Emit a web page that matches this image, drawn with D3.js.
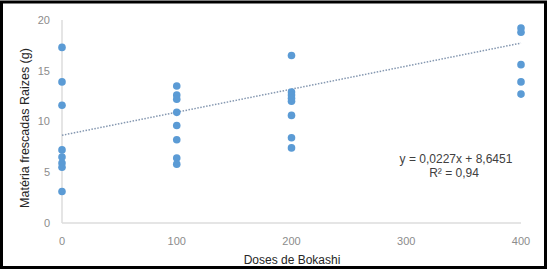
<!DOCTYPE html>
<html>
<head>
<meta charset="utf-8">
<script src="https://cdn.jsdelivr.net/npm/d3@7"></script>
<style>
  body { margin: 0; background: #fff; }
  svg { display: block; font-family: "Liberation Sans", Arial, sans-serif; }
</style>
</head>
<body>
<div id="chart"></div>
<script>
// doses and the values measured at each dose
const doses = [0, 100, 200, 400];
const dose0 = [17.3, 13.9, 11.6, 7.2, 6.5, 5.9, 5.5, 3.1];
const dose100 = [13.5, 12.6, 12.2, 10.9, 9.6, 8.2, 6.4, 5.8];
const dose200 = [16.5, 12.9, 12.6, 12.3, 12.0, 10.6, 8.4, 7.4];
const dose400 = [19.2, 18.8, 15.6, 13.9, 12.7];
const xTicks = [0, 100, 200, 300, 400];
const yTicks = [0, 5, 10, 15, 20];
const slope = 0.0227;
const intercept = 8.6451;
const eqLabel = "y = 0,0227x + 8,6451";
const r2Label = "R² = 0,94";

const groups = [dose0, dose100, dose200, dose400];
const points = groups.flatMap((vals, i) => vals.map((v) => ({ x: doses[i], y: v })));

const width = 553, height = 272;
const svg = d3.select("#chart").append("svg").attr("width", width).attr("height", height);

svg.append("rect")
  .attr("x", 1.5).attr("y", 2)
  .attr("width", 544).attr("height", 265.5)
  .attr("fill", "#fff").attr("stroke", "#000").attr("stroke-width", 3);

const x = d3.scaleLinear().domain([0, 400]).range([62, 521]);
const y = d3.scaleLinear().domain([0, 20]).range([223, 20]);

// axis lines
svg.append("line")
  .attr("x1", x(0)).attr("x2", x(0)).attr("y1", y(20)).attr("y2", y(0))
  .attr("stroke", "#dcdcdc").attr("stroke-width", 1.5);
svg.append("line")
  .attr("x1", x(0)).attr("x2", x(400)).attr("y1", y(0)).attr("y2", y(0))
  .attr("stroke", "#dcdcdc").attr("stroke-width", 1.5);

svg.append("g").selectAll("text").data(yTicks).join("text")
  .attr("x", 50).attr("y", (d) => y(d)).attr("dy", "0.35em")
  .attr("text-anchor", "end").attr("font-size", 11).attr("fill", "#8c8c8c")
  .text((d) => d);

svg.append("g").selectAll("text").data(xTicks).join("text")
  .attr("x", (d) => x(d)).attr("y", 241).attr("dy", "0.35em")
  .attr("text-anchor", "middle").attr("font-size", 11).attr("fill", "#8c8c8c")
  .text((d) => d);

// trend line
svg.append("line")
  .attr("x1", x(0)).attr("y1", y(intercept))
  .attr("x2", x(400)).attr("y2", y(intercept + slope * 400))
  .attr("stroke", "#8497b0").attr("stroke-width", 1.5)
  .attr("stroke-dasharray", "1.5,1.5");

svg.append("g").selectAll("circle").data(points).join("circle")
  .attr("cx", (d) => x(d.x)).attr("cy", (d) => y(d.y))
  .attr("r", 3.8).attr("fill", "#5b9bd5");

svg.append("text")
  .attr("x", 456).attr("y", 159).attr("dy", "0.35em")
  .attr("text-anchor", "middle").attr("font-size", 12).attr("fill", "#404040")
  .text(eqLabel);
svg.append("text")
  .attr("x", 454).attr("y", 173).attr("dy", "0.35em")
  .attr("text-anchor", "middle").attr("font-size", 12).attr("fill", "#404040")
  .text(r2Label);

svg.append("text")
  .attr("x", 292).attr("y", 260).attr("dy", "0.35em")
  .attr("text-anchor", "middle").attr("font-size", 12).attr("fill", "#262626")
  .text("Doses de Bokashi");

svg.append("text")
  .attr("transform", "translate(25,128) rotate(-90)")
  .attr("dy", "0.35em")
  .attr("text-anchor", "middle").attr("font-size", 12.5).attr("fill", "#262626")
  .text("Matéria frescadas Raizes (g)");
</script>
</body>
</html>
